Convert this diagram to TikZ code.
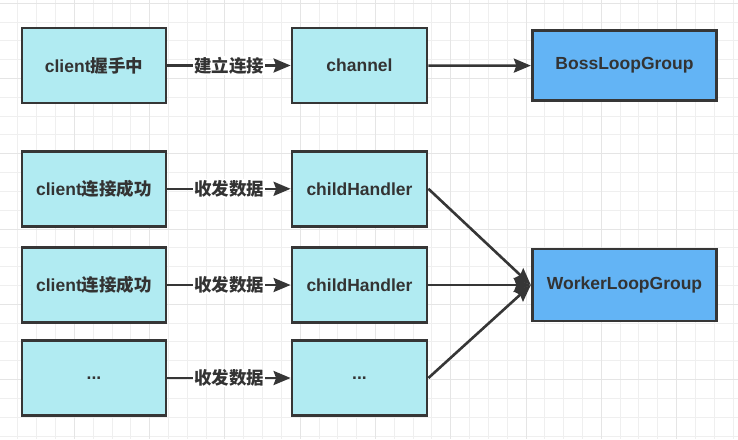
\documentclass[tikz,border=0pt]{standalone}
\usepackage{fontspec}
\setmainfont{Liberation Sans}
\newfontfamily\cjk{Noto Sans CJK SC}
\usetikzlibrary{arrows.meta}
\definecolor{cyanfill}{HTML}{B1EBF2}
\definecolor{bluefill}{HTML}{63B4F5}
\definecolor{edge}{HTML}{363636}
\definecolor{txt}{HTML}{333333}
\definecolor{gridminor}{HTML}{EFEFEF}
\definecolor{gridmajor}{HTML}{E5E5E5}
\tikzset{
  box/.style={draw=edge, line width=2.8pt, rectangle, inner sep=0pt,
    text=txt, font=\fontsize{17.5}{20}\selectfont\bfseries},
  clientbox/.style={box, fill=cyanfill, minimum width=144pt, minimum height=75pt},
  handlerbox/.style={box, fill=cyanfill, minimum width=135pt, minimum height=75pt},
  groupbox/.style={box, fill=bluefill, minimum width=184.5pt},
  conn/.style={draw=edge, line width=2.6pt, -{Stealth[length=17pt,width=14pt,inset=2.5pt]}},
  lbl/.style={fill=white, inner sep=1pt, text=txt, font=\fontsize{17.5}{20}\selectfont\bfseries}
}
\begin{document}
\begin{tikzpicture}[x=1pt,y=-1pt]
\useasboundingbox (0,0) rectangle (738,439);
\fill[white] (0,0) rectangle (738,439);
% grid
\foreach \i in {0,...,39} {
  \pgfmathsetmacro{\gx}{-0.9+18.82*\i}
  \draw[gridminor, line width=1pt] (\gx,0) -- (\gx,439);
}
\foreach \i in {0,...,23} {
  \pgfmathsetmacro{\gy}{3.2+18.82*\i}
  \draw[gridminor, line width=1pt] (0,\gy) -- (738,\gy);
}
\foreach \i in {0,...,9} {
  \pgfmathsetmacro{\gx}{-0.9+75.28*\i}
  \draw[gridmajor, line width=1pt] (\gx,0) -- (\gx,439);
}
\foreach \i in {0,...,5} {
  \pgfmathsetmacro{\gy}{3.2+75.28*\i}
  \draw[gridmajor, line width=1pt] (0,\gy) -- (738,\gy);
}
% nodes
\node[clientbox] (c1) at (94,65.5) {client{\cjk 握手中}};
\node[handlerbox] (h1) at (359.5,65.5) {channel};
\node[groupbox, minimum height=70pt] (boss) at (624.5,65.7) {BossLoopGroup};
\node[clientbox] (c2) at (94,188.8) {client{\cjk 连接成功}};
\node[handlerbox] (h2) at (359.5,188.8) {childHandler};
\node[clientbox] (c3) at (94,285) {client{\cjk 连接成功}};
\node[handlerbox] (h3) at (359.5,285) {childHandler};
\node[clientbox] (c4) at (94,378) {...};
\node[handlerbox] (h4) at (359.5,378) {...};
\node[groupbox, minimum height=72pt] (worker) at (624.5,285) {WorkerLoopGroup};
% connectors
\draw[conn] (c1) -- node[lbl] {\cjk 建立连接} (h1);
\draw[conn] (h1) -- (boss);
\draw[conn] (c2) -- node[lbl] {\cjk 收发数据} (h2);
\draw[conn] (c3) -- node[lbl] {\cjk 收发数据} (h3);
\draw[conn] (c4) -- node[lbl] {\cjk 收发数据} (h4);
\draw[conn] (h2.east) -- (worker.west);
\draw[conn] (h3.east) -- (worker.west);
\draw[conn] (h4.east) -- (worker.west);
\end{tikzpicture}
\end{document}
